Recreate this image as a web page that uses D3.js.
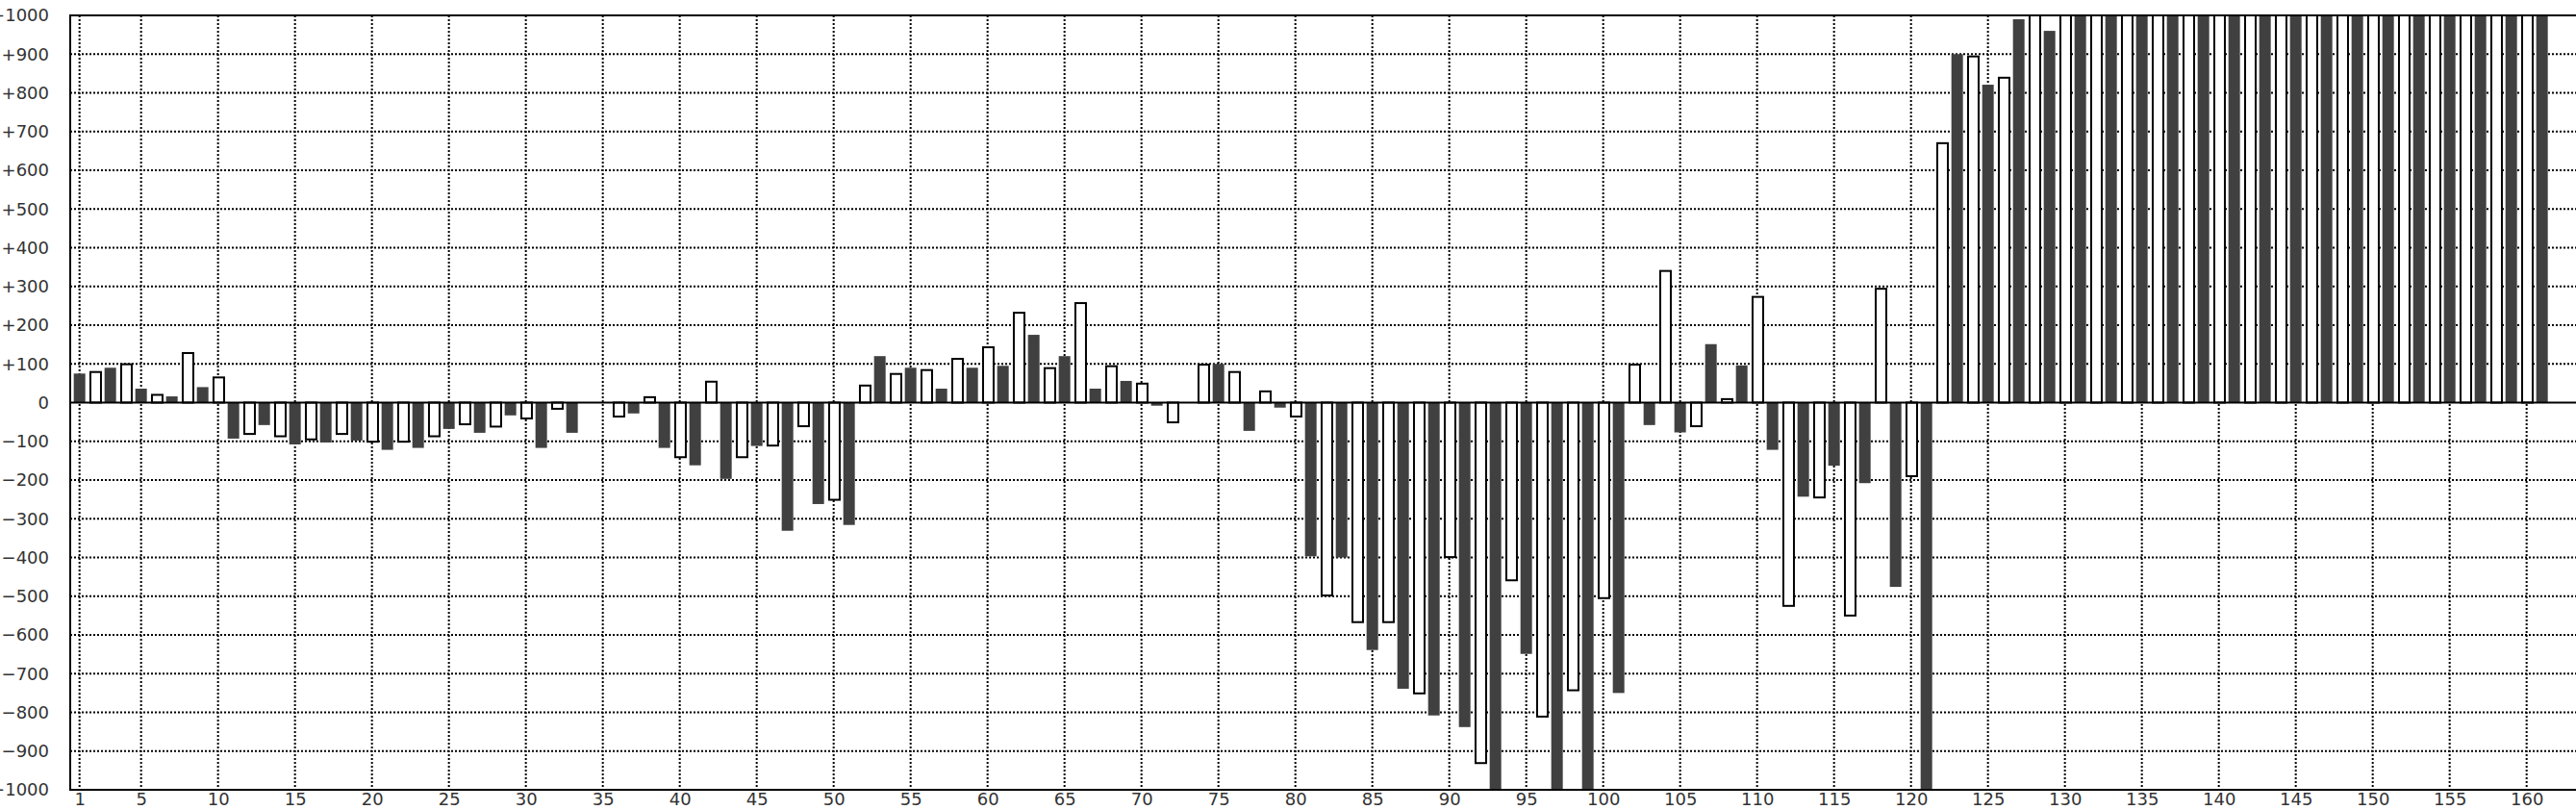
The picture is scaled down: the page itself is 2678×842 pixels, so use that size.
<!DOCTYPE html>
<html>
<head>
<meta charset="utf-8">
<script src="https://cdn.jsdelivr.net/npm/d3@7"></script>
<style>
html,body{margin:0;padding:0;background:#fff;overflow:hidden;}
svg{display:block;}
</style>
</head>
<body>
<svg id="chart" width="2678" height="842"></svg>
<script>
// ---- data ----
const categories = d3.range(1, 162); // 1..161
const values = [
  75, 79, 90, 99, 36, 20, 16, 128, 40, 65,
  -93, -81, -58, -87, -108, -95, -103, -81, -98, -101,
  -122, -101, -117, -87, -68, -56, -78, -62, -33, -41,
  -117, -16, -78, 0, 0, -36, -28, 14, -117, -141,
  -162, 54, -197, -141, -112, -111, -331, -61, -262, -251,
  -316, 44, 120, 74, 90, 84, 36, 113, 90, 143,
  95, 232, 175, 89, 120, 257, 36, 94, 56, 49,
  -8, -51, 0, 98, 100, 79, -73, 29, -13, -36,
  -397, -498, -400, -567, -639, -567, -739, -751, -808, -399,
  -838, -931, -1000, -459, -649, -811, -1000, -743, -1000, -505,
  -750, 98, -58, 340, -77, -61, 151, 9, 96, 273,
  -122, -525, -243, -245, -163, -550, -208, 294, -476, -190,
  -1000, 670, 900, 894, 821, 839, 990, 1000, 960, 1000,
  1000, 1000, 1000, 1000, 1000, 1000, 1000, 1000, 1000, 1000,
  1000, 1000, 1000, 1000, 1000, 1000, 1000, 1000, 1000, 1000,
  1000, 1000, 1000, 1000, 1000, 1000, 1000, 1000, 1000, 1000,
  1000
];
const yTicks = d3.range(-1000, 1001, 100);
const xTicks = [1, 5, 10, 15, 20, 25, 30, 35, 40, 45, 50, 55, 60, 65, 70, 75, 80,
  85, 90, 95, 100, 105, 110, 115, 120, 125, 130, 135, 140, 145, 150, 155, 160];

// ---- layout ----
const pLeft = 73, pTop = 16, pBottom = 821, pRight = 2690;
const svg = d3.select('#chart');

const x = d3.scaleLinear().domain([1, 160]).range([82.67, 2626.67]);
const y = d3.scaleLinear().domain([-1000, 1000]).range([pBottom, pTop]);
const fmt = v => v > 0 ? '+' + v : (v < 0 ? '\u2212' + Math.abs(v) : '0');

svg.append('defs').append('clipPath').attr('id', 'plotclip')
  .append('rect').attr('x', pLeft).attr('y', pTop).attr('width', pRight - pLeft).attr('height', pBottom - pTop);

// grid
const grid = svg.append('g').attr('stroke', '#000').attr('stroke-width', 2)
  .attr('stroke-dasharray', '2,2');
grid.selectAll('line.h').data(yTicks.filter(v => v !== 0 && Math.abs(v) < 1000)).join('line')
  .attr('class', 'h')
  .attr('x1', pLeft).attr('x2', pRight)
  .attr('y1', d => y(d)).attr('y2', d => y(d));
grid.selectAll('line.v').data(xTicks).join('line')
  .attr('class', 'v')
  .attr('x1', d => x(d)).attr('x2', d => x(d))
  .attr('y1', pTop).attr('y2', pBottom);

// bars
const bw = 12;
const bars = svg.append('g').attr('clip-path', 'url(#plotclip)');
bars.selectAll('rect').data(categories).join('rect')
  .attr('x', d => d % 2 === 1 ? x(d) - bw / 2 : x(d) - bw / 2 + 1.3)
  .attr('width', d => d % 2 === 1 ? bw : 11)
  .attr('y', (d, i) => y(Math.max(0, values[i])))
  .attr('height', (d, i) => Math.abs(y(values[i]) - y(0)))
  .attr('fill', d => d % 2 === 1 ? '#404040' : '#fff')
  .attr('stroke', d => d % 2 === 1 ? 'none' : '#000')
  .attr('stroke-width', 2);

// frame and zero line
const frame = svg.append('g').attr('stroke', '#000').attr('stroke-width', 2);
frame.append('line').attr('x1', pLeft).attr('x2', pRight).attr('y1', pTop).attr('y2', pTop);
frame.append('line').attr('x1', pLeft).attr('x2', pRight).attr('y1', pBottom).attr('y2', pBottom);
frame.append('line').attr('x1', pLeft).attr('x2', pRight).attr('y1', y(0)).attr('y2', y(0));
frame.append('line').attr('x1', pLeft).attr('x2', pLeft).attr('y1', pTop - 1).attr('y2', pBottom + 1);

// axes labels
const yAxis = d3.axisLeft(y).tickValues(yTicks).tickFormat(fmt).tickSize(0).tickPadding(0);
const gy = svg.append('g').attr('transform', 'translate(51,0)').call(yAxis);
gy.select('.domain').remove();
gy.selectAll('text').attr('font-family', 'DejaVu Sans').attr('font-size', 18).attr('fill', '#333');

const xAxis = d3.axisBottom(x).tickValues(xTicks).tickFormat(d3.format('d')).tickSize(0).tickPadding(3);
const gx = svg.append('g').attr('transform', `translate(0,${pBottom})`).call(xAxis);
gx.select('.domain').remove();
gx.selectAll('text').attr('font-family', 'DejaVu Sans').attr('font-size', 18).attr('fill', '#333');
</script>
</body>
</html>
